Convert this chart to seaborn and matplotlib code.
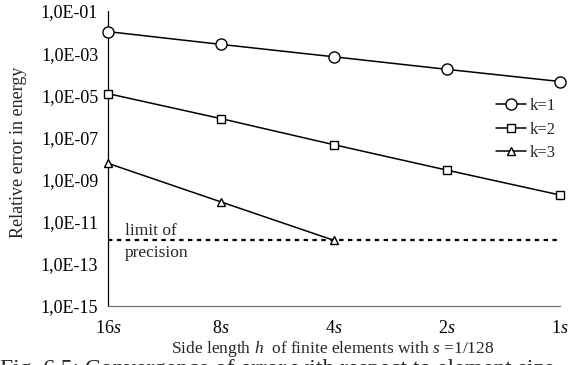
import matplotlib
matplotlib.use("Agg")
import matplotlib.pyplot as plt
import seaborn as sns
import pandas as pd
import numpy as np

# ---- data ----
h_labels = ["16$\\it{s}$", "8$\\it{s}$", "4$\\it{s}$", "2$\\it{s}$", "1$\\it{s}$"]
k1 = [1.05e-2, 2.6e-3, 6.7e-4, 1.7e-4, 4.5e-5]
k2 = [1.2e-5, 7.8e-7, 4.5e-8, 2.8e-9, 1.85e-10]
k3 = [5.9e-9, 8.7e-11, 1.3e-12]
series_names = ["k=1", "k=2", "k=3"]
precision_limit = 1.3e-12
y_ticks = [1e-1, 1e-3, 1e-5, 1e-7, 1e-9, 1e-11, 1e-13, 1e-15]
y_tick_labels = ["1,0E-01", "1,0E-03", "1,0E-05", "1,0E-07", "1,0E-09",
                 "1,0E-11", "1,0E-13", "1,0E-15"]

rows = []
for name, vals in zip(series_names, [k1, k2, k3]):
    for i, v in enumerate(vals):
        rows.append({"pos": i, "err": v, "k": name})
df = pd.DataFrame(rows)

sns.set_theme(style="white")
plt.rcParams["font.family"] = ["Liberation Serif", "DejaVu Serif"]
plt.rcParams["mathtext.fontset"] = "custom"
plt.rcParams["mathtext.rm"] = "Liberation Serif"
plt.rcParams["mathtext.it"] = "Liberation Serif:italic"

W, H = 579, 365
fig = plt.figure(figsize=(W/100, H/100), dpi=100)
ax = fig.add_axes([108/W, 1-306/H, (560-108)/W, (306-11)/H])

markers = {"k=1": "o", "k=2": "s", "k=3": "^"}
sizes = {"k=1": 8, "k=2": 5.3, "k=3": 5.5}
for name in series_names:
    sub = df[df["k"] == name]
    sns.lineplot(data=sub, x="pos", y="err", ax=ax, color="black", lw=1.1,
                 marker=markers[name], markersize=sizes[name],
                 markerfacecolor="white", markeredgecolor="black",
                 markeredgewidth=1.0, label=name, zorder=3, clip_on=False)

ax.axhline(precision_limit, color="black", lw=1.6, ls=(0, (2, 2)), zorder=2)

ax.set_yscale("log")
ax.set_ylim(1e-15, 1e-1)
ax.set_xlim(0, 4)
ax.set_yticks(y_ticks)
ax.set_yticklabels(y_tick_labels)
ax.minorticks_off()
ax.set_xticks(range(len(h_labels)))
ax.set_xticklabels(h_labels)
ax.tick_params(axis="both", labelsize=13, colors="black", direction="out",
               length=5, width=0.8)
ax.tick_params(axis="x", color="#707070", pad=5)
ax.tick_params(axis="y", pad=2)

for s in ["top", "right"]:
    ax.spines[s].set_visible(False)
ax.spines["left"].set_color("black")
ax.spines["left"].set_linewidth(0.9)
ax.spines["bottom"].set_color("#707070")
ax.spines["bottom"].set_linewidth(0.9)

ax.set_xlabel("Side length $\\it{h}$  of finite elements with $\\it{s}$ =1/128",
              fontsize=12.5)
ax.xaxis.set_label_coords((333-108)/452, -(349-306)/295)
ax.xaxis.label.set_va("center")
ax.set_ylabel("Relative error in energy", fontsize=13)
ax.yaxis.set_label_coords(-(108-19)/452, (306-152)/295)
ax.yaxis.label.set_va("center")

ax.text(0.15, 10**-11.45, "limit of", fontsize=12.5, va="center", ha="left")
ax.text(0.15, 10**-12.5, "precision", fontsize=12.5, va="center", ha="left")

leg = ax.legend(loc="upper right", bbox_to_anchor=(0.99, 0.705), frameon=False,
                fontsize=12, handlelength=1.8, handletextpad=0.2,
                labelspacing=0.45, borderaxespad=0, borderpad=0)

fig.text(0.0, 1-359/H, "Fig. 6.5: Convergence of error with respect to element size",
         fontsize=17, va="top", ha="left")

fig.savefig("out.png", dpi=100)
